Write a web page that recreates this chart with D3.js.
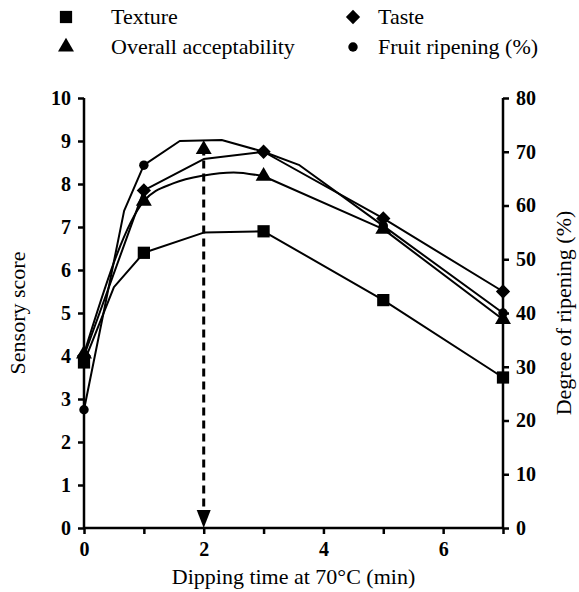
<!DOCTYPE html>
<html>
<head>
<meta charset="utf-8">
<script src="https://cdn.jsdelivr.net/npm/d3@7"></script>
<style>
  body { margin: 0; background: #fff; }
  svg { display: block; font-family: "Liberation Serif", "Times New Roman", serif; }
  svg text { font-family: "Liberation Serif", "Times New Roman", serif; }
</style>
</head>
<body>
<div id="chart"></div>
<script>
// sensory scores (x = dipping time, min)
// points without a marker are bends of the drawn line
var textureTimes = [0, 0.5, 1, 2, 3, 5, 7];
var textureMarker = [true, false, true, false, true, true, true];
var texture = [3.85, 5.6, 6.4, 6.87, 6.9, 5.3, 3.5];

var tasteTimes = [0, 1, 2, 3, 5, 7];
var tasteMarker = [true, true, false, true, true, true];
var taste = [4.0, 7.85, 8.58, 8.75, 7.2, 5.5];

var overallTimes = [0, 1, 1.5, 2, 2.5, 3, 5, 7];
var overallMarker = [true, true, false, false, false, true, true, true];
var overall = [4.05, 7.6, 8.02, 8.2, 8.27, 8.18, 6.95, 4.85];

// fruit ripening (%) on the right axis
var ripeTimes = [0, 0.67, 1, 1.6, 2.3, 3, 3.6, 5, 7];
var ripeMarker = [true, false, true, false, false, true, false, true, true];
var ripening = [22, 59, 67.5, 72, 72.2, 70, 67.5, 56.2, 40];

// optimum marked by the dashed arrow
var optTime = 2;
var optTop = 8.85;

var xTicks = [0, 1, 2, 3, 4, 5, 6, 7];
var xLabels = [0, 2, 4, 6];
var leftTicks = d3.range(0, 11);
var rightTicks = d3.range(0, 90, 10);

var width = 579, height = 592;
var margin = {left: 84, right: 76, top: 98, bottom: 64};

var svg = d3.select("#chart").append("svg")
    .attr("width", width)
    .attr("height", height);

var x = d3.scaleLinear().domain([0, 7]).range([margin.left, width - margin.right]);
var y = d3.scaleLinear().domain([0, 10]).range([height - margin.bottom, margin.top]);
var y2 = d3.scaleLinear().domain([0, 80]).range([height - margin.bottom, margin.top]);

// axes
var xAxis = svg.append("g")
    .attr("transform", "translate(0," + y(0) + ")")
    .call(d3.axisBottom(x).tickValues(xTicks).tickSize(6)
      .tickFormat(d => xLabels.includes(d) ? d : ""));
var yAxis = svg.append("g")
    .attr("transform", "translate(" + x(0) + ",0)")
    .call(d3.axisLeft(y).tickValues(leftTicks).tickSize(6));
var y2Axis = svg.append("g")
    .attr("transform", "translate(" + x(7) + ",0)")
    .call(d3.axisRight(y2).tickValues(rightTicks).tickSize(6));

[xAxis, yAxis, y2Axis].forEach(g => {
  g.select(".domain").attr("stroke", "#000").attr("stroke-width", 2.5);
  g.selectAll(".tick line").attr("stroke", "#000").attr("stroke-width", 2.5);
  g.selectAll("text")
    .attr("fill", "#000")
    .style("font-family", "Liberation Serif")
    .style("font-size", "20px")
    .style("font-weight", "bold");
});
xAxis.selectAll("text").attr("dy", "0.95em");
yAxis.selectAll("text").attr("x", -13);
y2Axis.selectAll("text").attr("x", 13);
// plain axis lines without d3's outer ticks
xAxis.select(".domain").attr("d", "M" + x(0) + ",0H" + x(7));
yAxis.select(".domain").attr("d", "M0," + y(10) + "V" + y(0));
y2Axis.select(".domain").attr("d", "M0," + y2(80) + "V" + y2(0));

// series lines
var line = d3.line();
function pts(ts, vals, sc) {
  return ts.map((t, i) => [x(t), sc(vals[i])]);
}

var lines = svg.append("g").attr("fill", "none").attr("stroke", "#000")
    .attr("stroke-width", 2).attr("stroke-linejoin", "round");
lines.append("path").attr("d", line(pts(textureTimes, texture, y)));
lines.append("path").attr("d", line(pts(tasteTimes, taste, y)));
lines.append("path").attr("d", d3.line().curve(d3.curveMonotoneX)(pts(overallTimes.slice(0, 6), overall.slice(0, 6), y)));
lines.append("path").attr("d", line(pts(overallTimes.slice(5), overall.slice(5), y)));
lines.append("path").attr("d", line(pts(ripeTimes, ripening, y2)));

// dashed arrow at the optimum
svg.append("line")
    .attr("x1", x(optTime)).attr("x2", x(optTime))
    .attr("y1", y(optTop)).attr("y2", y(0) - 14)
    .attr("stroke", "#000").attr("stroke-width", 3)
    .attr("stroke-dasharray", "8,5");
svg.append("path")
    .attr("d", "M" + (x(optTime) - 7) + "," + (y(0) - 18) + "L" + (x(optTime) + 7) + "," + (y(0) - 18) + "L" + x(optTime) + "," + y(0) + "Z")
    .attr("fill", "#000");

// markers
var sym = {
  square: d3.symbol().type(d3.symbolSquare).size(150),
  diamond: d3.symbol().type(d3.symbolDiamond2).size(130),
  triangle: d3.symbol().type(d3.symbolTriangle).size(110),
  circle: d3.symbol().type(d3.symbolCircle).size(70)
};

function markers(vals, shape, flags, ts, sc) {
  svg.append("g").selectAll("path")
    .data(vals.map((v, i) => ({t: ts[i], v: v, on: flags[i]})).filter(d => d.on))
    .join("path")
      .attr("transform", d => "translate(" + x(d.t) + "," + sc(d.v) + ")")
      .attr("d", sym[shape])
      .attr("fill", "#000");
}
markers(ripening, "circle", ripeMarker, ripeTimes, y2);
markers(texture, "square", textureMarker, textureTimes, y);
markers(overall, "triangle", overallMarker, overallTimes, y);
markers(taste, "diamond", tasteMarker, tasteTimes, y);

// triangle on top of the arrow
svg.append("path")
    .attr("transform", "translate(" + x(optTime) + "," + (y(optTop) + 2) + ")")
    .attr("d", sym.triangle)
    .attr("fill", "#000");

// axis titles
svg.append("text")
    .attr("x", (x(0) + x(7)) / 2).attr("y", 584)
    .attr("text-anchor", "middle")
    .style("font-size", "22px")
    .text("Dipping time at 70°C (min)");
svg.append("text")
    .attr("transform", "translate(25," + y(5) + ") rotate(-90)")
    .attr("text-anchor", "middle")
    .style("font-size", "22px")
    .text("Sensory score");
svg.append("text")
    .attr("transform", "translate(571," + y(5) + ") rotate(-90)")
    .attr("text-anchor", "middle")
    .style("font-size", "22px")
    .text("Degree of ripening (%)");

// legend
var legendItems = [
  {label: "Texture", shape: "square", lx: 66, ly: 17},
  {label: "Taste", shape: "diamond", lx: 353, ly: 17},
  {label: "Overall acceptability", shape: "triangle", lx: 66, ly: 47},
  {label: "Fruit ripening (%)", shape: "circle", lx: 353, ly: 47}
];
var legend = svg.append("g").selectAll("g")
  .data(legendItems)
  .join("g")
    .attr("transform", d => "translate(" + d.lx + "," + d.ly + ")");
legend.append("path")
    .attr("d", d => sym[d.shape]())
    .attr("fill", "#000");
legend.append("text")
    .attr("x", d => d.shape === "square" || d.shape === "triangle" ? 45 : 25)
    .attr("y", 7)
    .style("font-size", "22px")
    .text(d => d.label);
</script>
</body>
</html>
